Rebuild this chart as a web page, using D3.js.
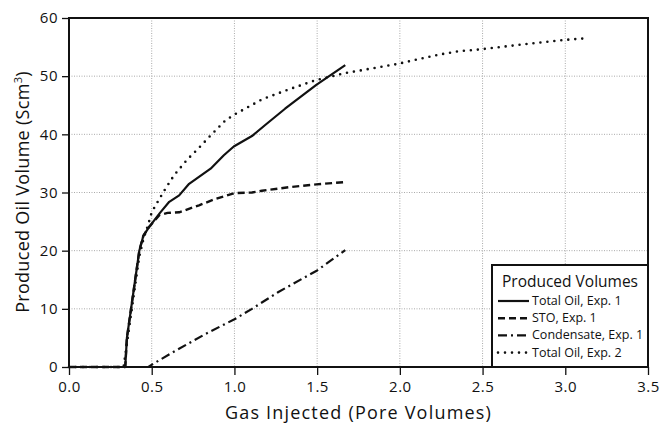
<!DOCTYPE html>
<html><head><meta charset="utf-8">
<script src="https://cdn.jsdelivr.net/npm/d3@7"></script>
<style>body{margin:0;background:#fff}svg{display:block}text{font-family:"Open Sans",sans-serif;fill:#111}</style>
</head><body><svg id="c" width="661" height="430"></svg>
<script>
const xTicks = [0,0.5,1.0,1.5,2.0,2.5,3.0,3.5];
const yTicks = [0,10,20,30,40,50,60];
const totalOil1X = [0,0.34,0.35,0.375,0.40,0.425,0.45,0.485,0.55,0.606,0.666,0.726,0.856,0.936,0.996,1.106,1.186,1.306,1.495,1.67];
const totalOil1Y = [0,0,5,10,15,20,22.6,24.1,26.5,28.4,29.5,31.5,34.1,36.4,37.9,39.7,41.6,44.4,48.5,51.9];
const stoX = [0,0.34,0.35,0.375,0.40,0.425,0.45,0.485,0.546,0.596,0.666,0.786,0.886,1.0,1.106,1.166,1.326,1.495,1.67];
const stoY = [0,0,5,10,15,20,22.6,24.1,26.1,26.5,26.6,27.8,28.9,29.9,30.0,30.3,30.9,31.4,31.8];
const condX = [0,0.48,0.506,0.626,0.826,1.0,1.106,1.266,1.5,1.67];
const condY = [0,0,0.5,2.5,5.7,8.2,10.0,12.9,16.6,20.1];
const totalOil2X = [0,0.33,0.345,0.36,0.38,0.40,0.425,0.45,0.48,0.5,0.546,0.586,0.636,0.716,0.776,0.856,0.946,1.0,1.166,1.316,1.49,1.665,1.985,2.235,2.36,2.485,2.784,2.984,3.12];
const totalOil2Y = [0,0,3,6,10,14,19,22,24.6,26.6,28.9,30.8,33.0,35.7,37.4,39.8,42.4,43.4,46.0,47.6,49.3,50.5,52.1,53.7,54.3,54.6,55.6,56.2,56.5];
const seriesNames = ["Total Oil, Exp. 1","STO, Exp. 1","Condensate, Exp. 1","Total Oil, Exp. 2"];

const svg = d3.select("#c");
const m = {l:69, r:648, t:18, b:367};
const x = d3.scaleLinear().domain([0,3.5]).range([m.l,m.r]);
const y = d3.scaleLinear().domain([0,60]).range([m.b,m.t]);

// grid
svg.append("g").selectAll("line").data(xTicks.slice(1,-1)).join("line")
  .attr("x1",d=>x(d)).attr("x2",d=>x(d)).attr("y1",m.t).attr("y2",m.b)
  .attr("stroke","#aaa").attr("stroke-width",1).attr("stroke-dasharray","1,1.5");
svg.append("g").selectAll("line").data(yTicks.slice(1,-1)).join("line")
  .attr("y1",d=>y(d)).attr("y2",d=>y(d)).attr("x1",m.l).attr("x2",m.r)
  .attr("stroke","#aaa").attr("stroke-width",1).attr("stroke-dasharray","1,1.5");

// axes
const xAxis = svg.append("g").attr("transform",`translate(0,${m.b})`)
  .call(d3.axisBottom(x).tickValues(xTicks).tickFormat(d3.format(".1f")).tickSize(8).tickPadding(6));
const yAxis = svg.append("g").attr("transform",`translate(${m.l},0)`)
  .call(d3.axisLeft(y).tickValues(yTicks).tickFormat(d3.format("d")).tickSize(7).tickPadding(4));
[xAxis,yAxis].forEach(g=>{
  g.select(".domain").remove();
  g.selectAll("line").attr("stroke","#111").attr("stroke-width",1.3);
  g.selectAll("text").attr("font-size",15).attr("font-family","Open Sans").attr("fill","#111").attr("letter-spacing",0.5);
});
// frame
svg.append("rect").attr("x",m.l).attr("y",m.t).attr("width",m.r-m.l).attr("height",m.b-m.t)
  .attr("fill","none").attr("stroke","#111").attr("stroke-width",2);

// series
const line = d3.line().x(d=>x(d[0])).y(d=>y(d[1]));
const mk = (xs,ys)=>xs.map((v,i)=>[v,ys[i]]);
const styles = [
  {dash:null, w:2.2, cap:"butt"},
  {dash:"7,4", w:2.4, cap:"butt"},
  {dash:"9,4,2,4", w:2.2, cap:"butt"},
  {dash:"0,7", w:2.6, cap:"round"}
];
const data = [mk(totalOil1X,totalOil1Y),mk(stoX,stoY),mk(condX,condY),mk(totalOil2X,totalOil2Y)];
data.forEach((d,i)=>{
  svg.append("path").datum(d).attr("d",line).attr("fill","none")
    .attr("stroke","#111").attr("stroke-width",styles[i].w)
    .attr("stroke-linecap",styles[i].cap).attr("stroke-linejoin","round")
    .attr("stroke-dasharray",styles[i].dash);
});

// legend
const lg = svg.append("g");
lg.append("rect").attr("x",492).attr("y",265).attr("width",m.r-492).attr("height",m.b-265)
  .attr("fill","#fff").attr("stroke","#111").attr("stroke-width",2);
lg.append("text").attr("x",570).attr("y",287).attr("text-anchor","middle").attr("font-size",15.5).text("Produced Volumes");
seriesNames.forEach((n,i)=>{
  const yy = 305 + i*17.2;
  lg.append("line").attr("x1",498).attr("x2",529).attr("y1",yy-4).attr("y2",yy-4)
    .attr("stroke","#111").attr("stroke-width",styles[i].w)
    .attr("stroke-linecap",styles[i].cap).attr("stroke-dasharray",styles[i].dash);
  lg.append("text").attr("x",532).attr("y",yy).attr("font-size",12.5).text(n);
});

// axis titles
svg.append("text").attr("x",(m.l+m.r)/2).attr("y",419).attr("text-anchor","middle")
  .attr("font-size",18).attr("letter-spacing",1.2).text("Gas Injected (Pore Volumes)");
const yt = svg.append("text").attr("transform","translate(29,192) rotate(-90)").attr("text-anchor","middle").attr("font-size",18).attr("letter-spacing",0.3);
yt.append("tspan").text("Produced Oil Volume (Scm");
yt.append("tspan").attr("dy",-7).attr("font-size",11).text("3");
yt.append("tspan").attr("dy",7).text(")");
</script></body></html>
